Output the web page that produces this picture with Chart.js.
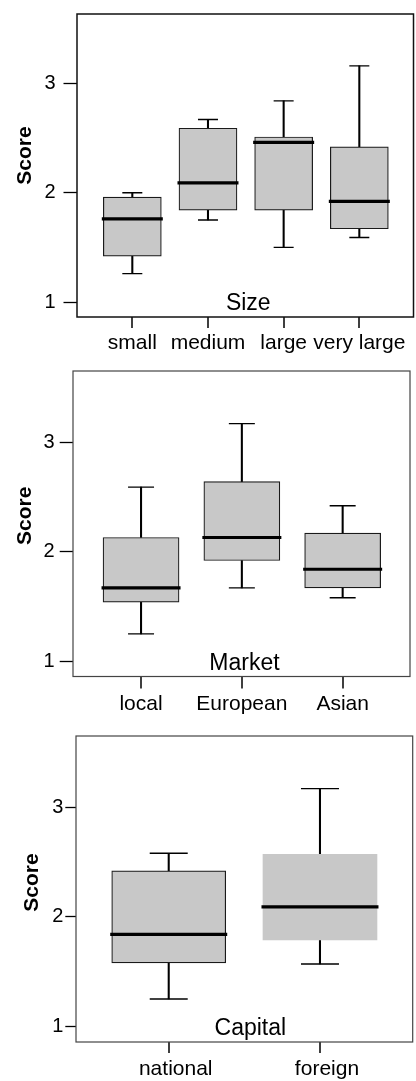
<!DOCTYPE html>
<html>
<head>
<meta charset="utf-8">
<script src="https://cdn.jsdelivr.net/npm/chart.js@4.4.0/dist/chart.umd.min.js"></script>
<style>
  html, body { margin: 0; padding: 0; background: #fff; }
  .panel { position: absolute; left: 0; width: 416px; }
  canvas { display: block; }
</style>
</head>
<body>
<div class="panel" style="top:0px"><canvas id="sizeChart" width="416" height="360"></canvas></div>
<div class="panel" style="top:360px"><canvas id="marketChart" width="416" height="360"></canvas></div>
<div class="panel" style="top:720px"><canvas id="capitalChart" width="416" height="361"></canvas></div>
<script>
// values
const yTicks = [1, 2, 3];

const sizeLabels = ['small', 'medium', 'large', 'very large'];
const sizeMin = [1.26, 1.75, 1.50, 1.59];
const sizeQ1  = [1.42, 1.84, 1.84, 1.67];
const sizeMed = [1.76, 2.09, 2.46, 1.92];
const sizeQ3  = [1.96, 2.59, 2.51, 2.42];
const sizeMax = [2.00, 2.67, 2.84, 3.16];

const marketLabels = ['local', 'European', 'Asian'];
const marketMin = [1.25, 1.67, 1.58];
const marketQ1  = [1.54, 1.92, 1.67];
const marketMed = [1.67, 2.13, 1.84];
const marketQ3  = [2.13, 2.64, 2.17];
const marketMax = [2.59, 3.17, 2.42];

const capitalLabels = ['national', 'foreign'];
const capitalMin = [1.25, 1.57];
const capitalQ1  = [1.58, 1.79];
const capitalMed = [1.84, 2.09];
const capitalQ3  = [2.42, 2.57];
const capitalMax = [2.58, 3.17];

const FONT = '"Liberation Sans", Arial, Helvetica, sans-serif';

// draws the frame, the x tick marks, the axis name inside the frame and the rotated "Score"
const panelText = {
  id: 'panelText',
  afterDraw(chart, args, opts) {
    const { ctx, chartArea: a } = chart;
    const xScale = chart.scales.x;
    ctx.save();
    ctx.fillStyle = '#000';
    xScale.ticks.forEach(t => {
      const px = Math.round(xScale.getPixelForValue(t.value));
      ctx.fillRect(px - 0.75, a.bottom, 1.5, opts.xTick);
    });

    ctx.strokeStyle = opts.frameColor;
    ctx.lineWidth = opts.frameWidth;
    ctx.strokeRect(a.left, a.top, a.right - a.left, a.bottom - a.top);

    ctx.font = '23px ' + FONT;
    ctx.textAlign = 'center';
    ctx.textBaseline = 'alphabetic';
    ctx.fillText(opts.title, (a.left + a.right) / 2 + opts.titleDx, a.bottom - 7);

    ctx.font = 'bold 21px ' + FONT;
    ctx.textBaseline = 'middle';
    ctx.translate(opts.scoreX, (a.top + a.bottom) / 2 + opts.scoreDy);
    ctx.rotate(-Math.PI / 2);
    ctx.fillText('Score', 0, 0);
    ctx.restore();
  }
};

function makeBoxChart(id, labels, min, q1, med, q3, max, look) {
  const xs = labels.map((_, i) => i + 1);
  const datasets = [
    {
      type: 'bar', grouped: false, order: 4,
      data: xs.map((x, i) => ({ x: x, y: [q3[i], max[i]] })),
      barThickness: 1.4, backgroundColor: '#000'
    },
    {
      type: 'bar', grouped: false, order: 4,
      data: xs.map((x, i) => ({ x: x, y: [min[i], q1[i]] })),
      barThickness: 1.4, backgroundColor: '#000'
    },
    {
      type: 'bar', grouped: false, order: 3,
      data: xs.map((x, i) => ({ x: x, y: [q1[i], q3[i]] })),
      barThickness: look.box, backgroundColor: '#c8c8c8',
      borderColor: '#1a1a1a', borderWidth: look.boxBorder, borderSkipped: false
    },
    {
      type: 'scatter', order: 2,
      data: xs.flatMap((x, i) => [{ x: x, y: min[i] }, { x: x, y: max[i] }]),
      pointStyle: 'line', pointRadius: look.cap / 2, borderWidth: 1.4, borderColor: '#000'
    },
    {
      type: 'scatter', order: 1,
      data: xs.map((x, i) => ({ x: x, y: med[i] })),
      pointStyle: 'line', pointRadius: look.median / 2, borderWidth: 3.2, borderColor: '#000'
    }
  ];

  return new Chart(document.getElementById(id), {
    type: 'bar',
    data: { datasets: datasets },
    plugins: [panelText],
    options: {
      responsive: false,
      animation: false,
      events: [],
      layout: { autoPadding: false, padding: { top: look.top, right: look.right, left: 0, bottom: 0 } },
      plugins: {
        legend: { display: false },
        tooltip: { enabled: false },
        panelText: Object.assign({ xTick: look.xTick }, look.text)
      },
      scales: {
        x: {
          type: 'linear', offset: false,
          min: look.xMin, max: look.xMax,
          afterBuildTicks: s => { s.ticks = xs.map(v => ({ value: v })); },
          afterFit: s => { s.height = look.bottom; s.paddingLeft = 0; s.paddingRight = 0; },
          grid: { offset: false, drawOnChartArea: false, tickLength: look.xTick, tickColor: 'rgba(0,0,0,0)' },
          border: { display: false },
          ticks: {
            autoSkip: false, maxRotation: 0, padding: look.xPad, color: '#000',
            labelOffset: look.xLabelShift,
            font: { family: FONT, size: 21 },
            callback: v => labels[v - 1]
          }
        },
        y: {
          type: 'linear',
          min: look.yMin, max: look.yMax,
          afterBuildTicks: s => { s.ticks = yTicks.map(v => ({ value: v })); },
          afterFit: s => { s.width = look.left; s.paddingTop = 0; s.paddingBottom = 0; },
          grid: { drawOnChartArea: false, tickLength: look.yTick, tickColor: '#000', tickWidth: 1.3 },
          border: { display: false },
          ticks: {
            padding: look.yPad, color: '#000',
            font: { family: FONT, size: 20 },
            callback: v => String(v)
          }
        }
      }
    }
  });
}

makeBoxChart('sizeChart', sizeLabels, sizeMin, sizeQ1, sizeMed, sizeQ3, sizeMax, {
  top: 14, right: 2.5, left: 77, bottom: 43,
  xMin: 0.269, xMax: 4.716, yMin: 0.863, yMax: 3.635,
  box: 58, boxBorder: 1.2, cap: 20, median: 61,
  xTick: 11, xPad: 3, xLabelShift: 0, yTick: 13.5, yPad: 8,
  text: { title: 'Size', titleDx: 3, scoreX: 25, scoreDy: -10, frameColor: '#111', frameWidth: 1.5 }
});

makeBoxChart('marketChart', marketLabels, marketMin, marketQ1, marketMed, marketQ3, marketMax, {
  top: 11, right: 6, left: 73, bottom: 43.5,
  xMin: 0.325, xMax: 3.668, yMin: 0.861, yMax: 3.65,
  box: 76, boxBorder: 1.2, cap: 26, median: 79,
  xTick: 12, xPad: 3, xLabelShift: 0, yTick: 13.3, yPad: 5,
  text: { title: 'Market', titleDx: 3, scoreX: 25, scoreDy: -8, frameColor: '#444', frameWidth: 1.2 }
});

makeBoxChart('capitalChart', capitalLabels, capitalMin, capitalQ1, capitalMed, capitalQ3, capitalMax, {
  top: 16, right: 3.3, left: 76, bottom: 39,
  xMin: 0.387, xMax: 2.613, yMin: 0.858, yMax: 3.65,
  box: 114, boxBorder: [1.2, 0], cap: 38, median: 117,
  xTick: 11, xPad: 4, xLabelShift: 7, yTick: 10.7, yPad: 2,
  text: { title: 'Capital', titleDx: 6, scoreX: 32, scoreDy: -6.5, frameColor: '#444', frameWidth: 1.2 }
});
</script>
</body>
</html>
